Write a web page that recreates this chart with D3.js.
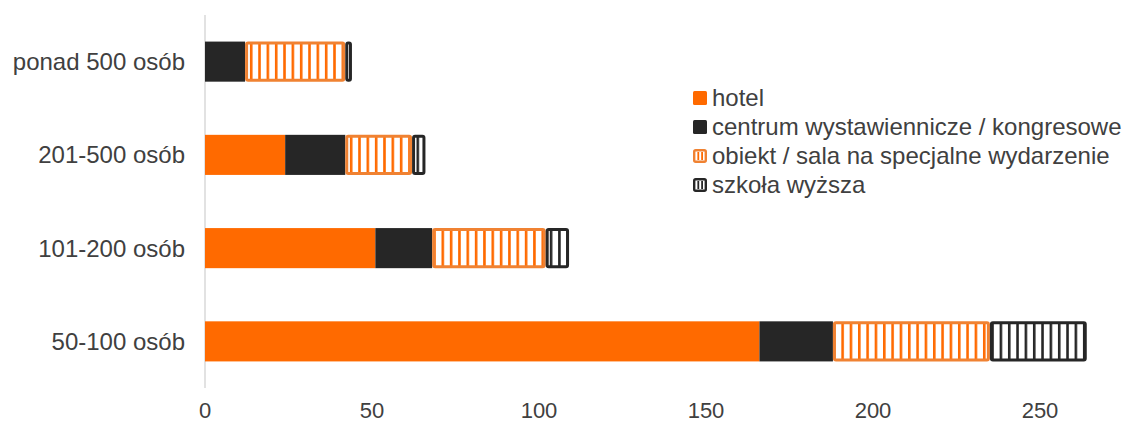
<!DOCTYPE html>
<html>
<head>
<meta charset="utf-8">
<script src="https://cdn.jsdelivr.net/npm/d3@7"></script>
<style>
  body { margin: 0; background: #fff; }
  text { font-family: "Liberation Sans", Arial, sans-serif; fill: #404040; }
</style>
</head>
<body>
<svg width="1124" height="424"></svg>
<script>
const categories = ['ponad 500 osób', '201-500 osób', '101-200 osób', '50-100 osób'];
const seriesNames = ['hotel', 'centrum wystawiennicze / kongresowe', 'obiekt / sala na specjalne wydarzenie', 'szkoła wyższa'];
const hotel = [0, 24, 51, 166];
const centrum = [12, 18, 17, 22];
const obiekt = [30, 20, 34, 47];
const szkola = [2, 4, 7, 29];
const ticks = [0, 50, 100, 150, 200, 250];

const svg = d3.select('svg');
const margin = { left: 205, right: 84, top: 15, bottom: 36 };
const width = 1124;
const height = 424;

// stripe patterns
const defs = svg.append('defs');
function stripes(id, col) {
  const p = defs.append('pattern')
    .attr('id', id)
    .attr('patternUnits', 'userSpaceOnUse')
    .attr('width', 8.33)
    .attr('height', 8);
  p.append('rect').attr('width', 8.33).attr('height', 8).attr('fill', '#fff');
  p.append('rect').attr('x', 0).attr('width', 2.6).attr('height', 8).attr('fill', col);
}
stripes('orangeStripes', '#ff6a00');
stripes('blackStripes', '#262626');

const styles = [
  { fill: '#ff6a00', stroke: 'none' },
  { fill: '#262626', stroke: 'none' },
  { fill: 'url(#orangeStripes)', stroke: '#f08232' },
  { fill: 'url(#blackStripes)', stroke: '#262626' }
];

const x = d3.scaleLinear()
  .domain([0, 250])
  .range([margin.left, width - margin.right]);

const y = d3.scaleBand()
  .domain(categories)
  .range([margin.top, height - margin.bottom])
  .paddingInner(0.57)
  .paddingOuter(0.285);

const table = categories.map((c, i) => ({
  cat: c, hotel: hotel[i], centrum: centrum[i], obiekt: obiekt[i], szkola: szkola[i]
}));
const stack = d3.stack().keys(['hotel', 'centrum', 'obiekt', 'szkola'])(table);

// axis line
svg.append('line')
  .attr('x1', x(0)).attr('x2', x(0))
  .attr('y1', margin.top).attr('y2', height - margin.bottom)
  .attr('stroke', '#d9d9d9').attr('stroke-width', 1.5);

svg.append('g').selectAll('g')
  .data(stack)
  .join('g')
  .each(function(layer, li) {
    const st = styles[li];
    const inset = st.stroke === 'none' ? 0 : 1.5;
    d3.select(this).selectAll('rect')
      .data(layer.filter(d => d[1] - d[0] > 0))
      .join('rect')
      .attr('x', d => x(d[0]) + inset)
      .attr('y', d => y(d.data.cat) + inset)
      .attr('width', d => x(d[1]) - x(d[0]) - 2 * inset)
      .attr('height', y.bandwidth() - 2 * inset)
      .attr('rx', inset ? 1.5 : 0)
      .attr('fill', st.fill)
      .attr('stroke', st.stroke)
      .attr('stroke-width', 3);
  });

// category labels
svg.append('g').selectAll('text')
  .data(categories)
  .join('text')
  .attr('x', 185)
  .attr('y', d => y(d) + y.bandwidth() / 2)
  .attr('dy', '0.35em')
  .attr('text-anchor', 'end')
  .attr('font-size', 24)
  .text(d => d);

// x tick labels
svg.append('g').selectAll('text')
  .data(ticks)
  .join('text')
  .attr('x', d => x(d))
  .attr('y', 418)
  .attr('text-anchor', 'middle')
  .attr('font-size', 22)
  .text(d => d);

// legend
const legend = svg.append('g').attr('transform', 'translate(693, 91)');
const item = legend.selectAll('g')
  .data(seriesNames)
  .join('g')
  .attr('transform', (d, i) => `translate(0, ${i * 29})`);
item.append('rect')
  .attr('x', (d, i) => i < 2 ? 0 : 1.2)
  .attr('y', (d, i) => i < 2 ? 0 : 1.2)
  .attr('width', (d, i) => i < 2 ? 14 : 11.6)
  .attr('height', (d, i) => i < 2 ? 14 : 11.6)
  .attr('rx', 1.5)
  .attr('fill', (d, i) => i < 2 ? styles[i].fill : '#fff')
  .attr('stroke', (d, i) => styles[i].stroke)
  .attr('stroke-width', 2.4);
item.filter((d, i) => i >= 2).each(function(d, j) {
  const col = j === 0 ? '#ff6a00' : '#262626';
  d3.select(this).selectAll('rect.s')
    .data([4.4, 8.2])
    .join('rect')
    .attr('class', 's')
    .attr('x', v => v)
    .attr('y', 3)
    .attr('width', 1.8)
    .attr('height', 8)
    .attr('fill', col);
});
item.append('text')
  .attr('x', 19)
  .attr('y', 15)
  .attr('font-size', 24)
  .text(d => d);
</script>
</body>
</html>
